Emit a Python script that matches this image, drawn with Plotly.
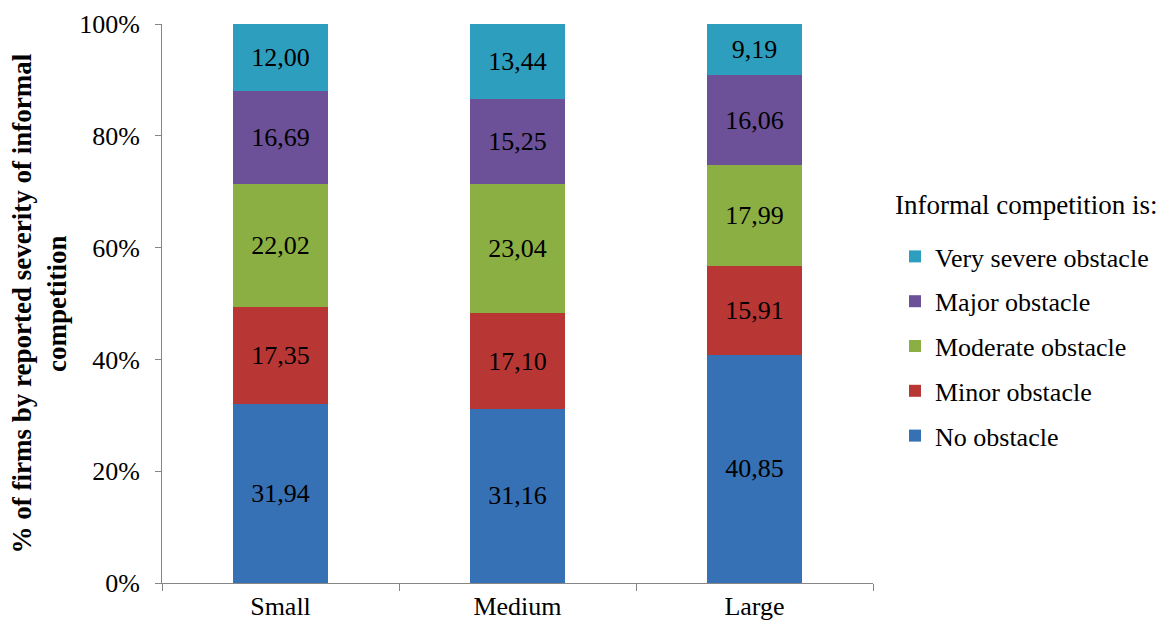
import plotly.graph_objects as go

categories = ["Small", "Medium", "Large"]
series_names = ["No obstacle", "Minor obstacle", "Moderate obstacle", "Major obstacle", "Very severe obstacle"]
no_obstacle = [31.94, 31.16, 40.85]
minor_obstacle = [17.35, 17.10, 15.91]
moderate_obstacle = [22.02, 23.04, 17.99]
major_obstacle = [16.69, 15.25, 16.06]
very_severe_obstacle = [12.00, 13.44, 9.19]
y_ticks = [0, 20, 40, 60, 80, 100]
y_tick_labels = ["0%", "20%", "40%", "60%", "80%", "100%"]

series_values = [no_obstacle, minor_obstacle, moderate_obstacle, major_obstacle, very_severe_obstacle]
colors = ["#3670B5", "#B83734", "#8BAF43", "#6C5198", "#2E9EBE"]

FONT = "Liberation Serif"
FS = 26

fig = go.Figure()
n = len(series_names)
for i, (name, vals, col) in enumerate(zip(series_names, series_values, colors)):
    fig.add_trace(go.Bar(
        x=categories, y=vals, name=name,
        marker=dict(color=col, line=dict(width=0)),
        texttemplate="%{y:.2f}", textposition="inside",
        insidetextanchor="middle",
        textfont=dict(family=FONT, size=FS, color="black"),
        legendgroup=f"g{i}", legendrank=n - i,
        hoverinfo="skip",
    ))

L, R, T, B = 162, 291, 24, 45
PW, PH = 1164 - L - R, 628 - T - B

fig.update_layout(
    barmode="stack",
    bargap=0.6,
    separators=",.",
    width=1164, height=628,
    margin=dict(l=L, r=R, t=T, b=B, autoexpand=False),
    paper_bgcolor="white", plot_bgcolor="white",
    font=dict(family=FONT, size=FS, color="black"),
    uniformtext=dict(minsize=FS - 1, mode="show"),
    showlegend=True,
    legend=dict(
        x=(895 - L) / PW, y=(583 - 233) / PH, xanchor="left", yanchor="top",
        traceorder="grouped", tracegroupgap=8,
        font=dict(family=FONT, size=FS, color="black"),
        bgcolor="rgba(0,0,0,0)", itemwidth=30,
    ),
    annotations=[
        dict(
            text="Informal competition is:", xref="paper", yref="paper",
            x=(893 - L) / PW, y=(583 - 205) / PH, xanchor="left", yanchor="middle",
            showarrow=False, font=dict(family=FONT, size=27, color="black"),
        ),
        dict(
            text="<b>% of firms by reported severity of informal<br>competition</b>",
            xref="paper", yref="paper", x=(39 - L) / PW, y=0.5,
            xanchor="center", yanchor="middle", textangle=-90, showarrow=False,
            font=dict(family=FONT, size=27, color="black"),
        ),
    ],
)

fig.update_xaxes(
    showline=True, linecolor="#868686", linewidth=1, automargin=False,
    ticks="outside", tickson="boundaries", ticklen=7, tickcolor="#868686",
    showgrid=False, tickfont=dict(family=FONT, size=FS, color="black"),
)
fig.update_yaxes(
    range=[0, 100], tickvals=y_ticks, ticktext=y_tick_labels, automargin=False,
    showline=True, linecolor="#868686", linewidth=1,
    ticks="outside", ticklen=6, tickcolor="#868686", ticklabelstandoff=10,
    showgrid=False, zeroline=False,
    tickfont=dict(family=FONT, size=FS, color="black"),
)

fig.write_html("out.html", config={"displayModeBar": False},
               post_script="document.body.style.margin='0';")
